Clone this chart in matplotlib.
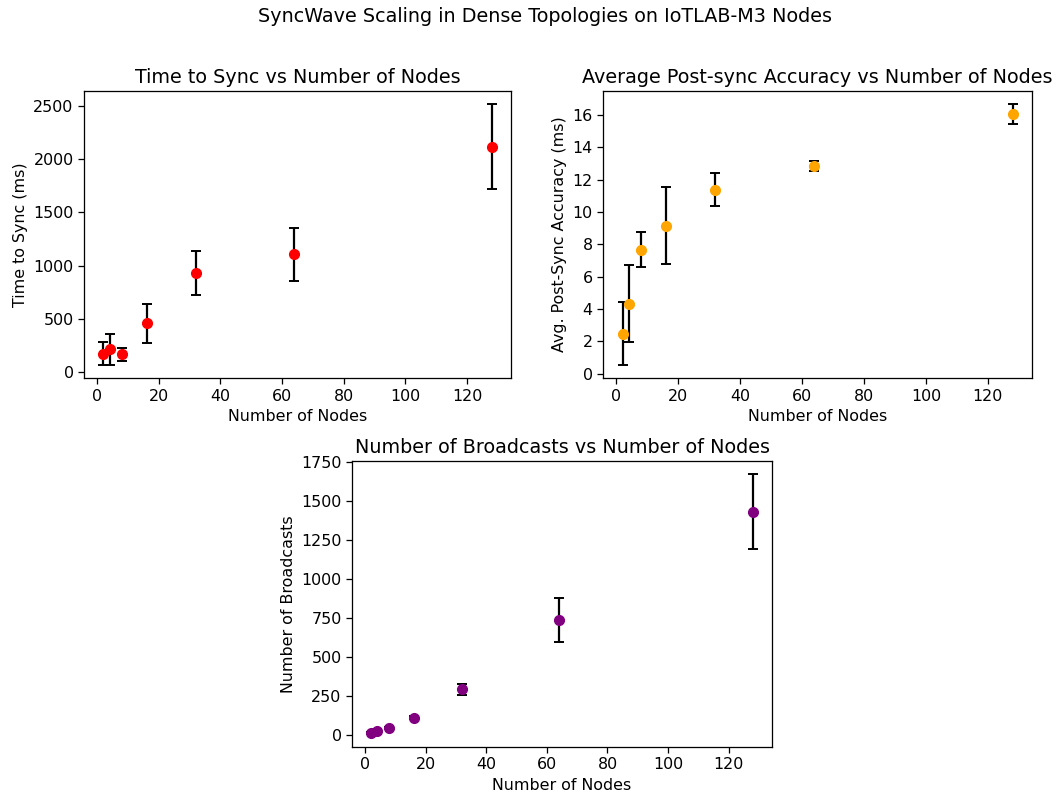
import numpy as np
import matplotlib
matplotlib.use("Agg")
import matplotlib.pyplot as plt

nodes = [2, 4, 8, 16, 32, 64, 128]

sync_time = [173, 211, 164, 456, 931, 1107, 2120]
sync_time_err = [110, 148, 65, 185, 205, 250, 400]

accuracy = [2.47, 4.33, 7.67, 9.16, 11.38, 12.85, 16.06]
accuracy_err = [1.95, 2.38, 1.1, 2.4, 1.03, 0.32, 0.63]

broadcasts = [10, 27, 43, 109, 292, 735, 1432]
broadcasts_err = [5, 8, 5, 10, 36, 141, 240]

s = 1.145
plt.rcParams['font.size'] = 10 * s
plt.rcParams['axes.titlesize'] = 12 * s
plt.rcParams['figure.titlesize'] = 12 * s
plt.rcParams['axes.linewidth'] = 0.8 * s
plt.rcParams['xtick.major.width'] = 0.8 * s
plt.rcParams['ytick.major.width'] = 0.8 * s
plt.rcParams['xtick.major.size'] = 3.5 * s
plt.rcParams['ytick.major.size'] = 3.5 * s

fig = plt.figure(figsize=(10.58, 7.98), dpi=100)
fig.suptitle('SyncWave Scaling in Dense Topologies on IoTLAB-M3 Nodes',
             x=0.515, y=0.979, va='center')

ax1 = fig.add_axes([0.0794, 0.526, 0.4036, 0.360])
ax2 = fig.add_axes([0.570, 0.526, 0.4055, 0.360])
ax3 = fig.add_axes([0.3327, 0.064, 0.397, 0.358])

ax1.errorbar(nodes, sync_time, yerr=sync_time_err, fmt='o', color='red',
             ecolor='black', elinewidth=1.6, capsize=3.5, capthick=1.4, markersize=7)
ax1.set_title('Time to Sync vs Number of Nodes')
ax1.set_xlabel('Number of Nodes')
ax1.set_ylabel('Time to Sync (ms)')

ax2.errorbar(nodes, accuracy, yerr=accuracy_err, fmt='o', color='orange',
             ecolor='black', elinewidth=1.6, capsize=3.5, capthick=1.4, markersize=7)
ax2.set_title('Average Post-sync Accuracy vs Number of Nodes')
ax2.set_xlabel('Number of Nodes')
ax2.set_ylabel('Avg. Post-Sync Accuracy (ms)')

ax3.errorbar(nodes, broadcasts, yerr=broadcasts_err, fmt='o', color='purple',
             ecolor='black', elinewidth=1.6, capsize=3.5, capthick=1.4, markersize=7)
ax3.set_title('Number of Broadcasts vs Number of Nodes')
ax3.set_xlabel('Number of Nodes')
ax3.set_ylabel('Number of Broadcasts')

fig.savefig('out.png', dpi=100)
